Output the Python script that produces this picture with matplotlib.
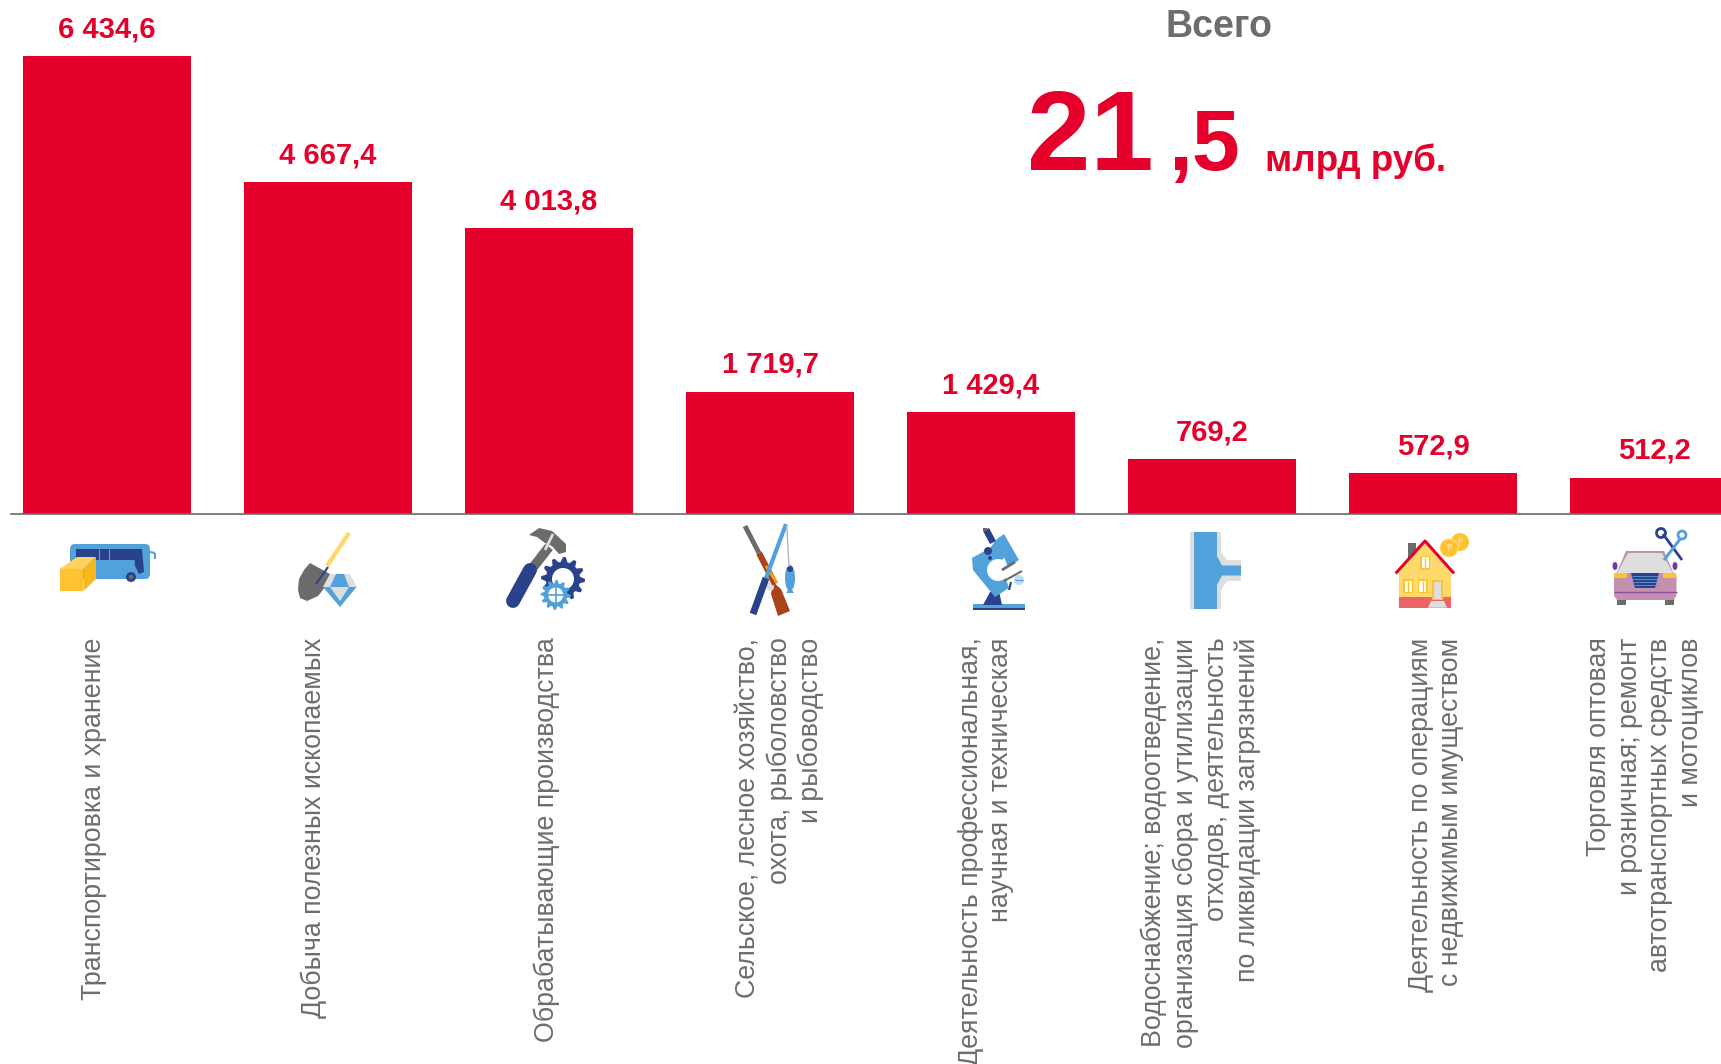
import numpy as np
import matplotlib
matplotlib.use("Agg")
import matplotlib.pyplot as plt
from matplotlib.patches import Polygon, Circle, Rectangle, Ellipse, FancyBboxPatch
from matplotlib.transforms import ScaledTranslation

plt.rcParams['font.family'] = ['Liberation Sans', 'DejaVu Sans']

categories = [
    "Транспортировка и хранение",
    "Добыча полезных ископаемых",
    "Обрабатывающие производства",
    "Сельское, лесное хозяйство,\nохота, рыболовство\nи рыбоводство",
    "Деятельность профессиональная,\nнаучная и техническая",
    "Водоснабжение; водоотведение,\nорганизация сбора и утилизации\nотходов, деятельность\nпо ликвидации загрязнений",
    "Деятельность по операциям\nс недвижимым имуществом",
    "Торговля оптовая\nи розничная; ремонт\nавтотранспортных средств\nи мотоциклов",
]
values = [6434.6, 4667.4, 4013.8, 1719.7, 1429.4, 769.2, 572.9, 512.2]

RED = "#E4002B"
GRAY = "#6D6D6D"
BLUE = "#52A1DA"
NAVY = "#2A428C"
YELLOW = "#FFC331"
LIGHT = "#DEDEDE"

W, H = 1721, 1064
fig = plt.figure(figsize=(W / 100, H / 100), dpi=100)

# bars: one category = 221 px, x=0 sits at 107 px, baseline at 514 px
ax = fig.add_axes([11 / W, (H - 514) / H, (W - 11) / W, 514 / H])
ax.set_xlim((11 - 107) / 221, (W - 107) / 221)
ax.set_ylim(0, 514 / 0.07113)
x = np.arange(len(values))
bars = ax.bar(x, values, width=0.762, color=RED)

for s in ['top', 'left', 'right']:
    ax.spines[s].set_visible(False)
ax.spines['bottom'].set_color("#6a6a6a")
ax.spines['bottom'].set_linewidth(1.2)
ax.set_yticks([])

for b, v in zip(bars, values):
    txt = f"{v:,.1f}".replace(",", " ").replace(".", ",")
    ax.annotate(txt, (b.get_x() + b.get_width() / 2, v), xytext=(0, 13.5),
                textcoords="offset points", ha="center", va="baseline",
                color=RED, fontsize=21, fontweight="bold")

# the labels were placed by hand in the original, so not quite under the bars
label_shift = [-13, -14, -2, 10, -5, -11, 3, -9]
ax.set_xticks(x)
ax.set_xticklabels(categories, rotation=90, va="top", ha="center",
                   multialignment="right", color=GRAY, fontsize=19.3,
                   linespacing=1.245)
ax.tick_params(axis="x", length=0, pad=89)
for t, d in zip(ax.get_xticklabels(), label_shift):
    t.set_transform(t.get_transform() + ScaledTranslation(d / 100, 0, fig.dpi_scale_trans))

# headline
fig.text(1219 / W, 1 - 37 / H, "Всего", ha="center", va="baseline", color=GRAY,
         fontsize=27, fontweight="bold")
fig.text(1027 / W, 1 - 170 / H, "21", ha="left", va="baseline", color=RED,
         fontsize=82, fontweight="bold")
fig.text(1168 / W, 1 - 170 / H, ",5", ha="left", va="baseline", color=RED,
         fontsize=62, fontweight="bold")
fig.text(1265 / W, 1 - 171 / H, "млрд руб.", ha="left", va="baseline", color=RED,
         fontsize=26.5, fontweight="bold")

# icons, drawn in pixel coordinates of the picture
ic = fig.add_axes([0, 0, 1, 1], zorder=5)
ic.set_xlim(0, W)
ic.set_ylim(H, 0)
ic.axis("off")
ic.patch.set_alpha(0)


def poly(pts, color):
    ic.add_patch(Polygon(pts, closed=True, fc=color, ec="none"))


def rect(x0, y0, x1, y1, color):
    ic.add_patch(Rectangle((x0, y0), x1 - x0, y1 - y0, fc=color, ec="none"))


def circ(cx, cy, r, color):
    ic.add_patch(Circle((cx, cy), r, fc=color, ec="none"))


def line(x0, y0, x1, y1, color, lw, cap="butt"):
    ic.plot([x0, x1], [y0, y1], color=color, lw=lw, solid_capstyle=cap)


def gear(cx, cy, r, color, teeth, hole_color="white"):
    a = np.linspace(0, 2 * np.pi, teeth * 4, endpoint=False)
    rr = np.tile([r, r, r * 0.78, r * 0.78], teeth)
    poly(np.c_[cx + rr * np.cos(a), cy + rr * np.sin(a)], color)
    circ(cx, cy, r * 0.5, hole_color)


def bus():
    ic.add_patch(FancyBboxPatch((72, 546), 76, 31, boxstyle="round,pad=2,rounding_size=5", fc=BLUE, ec="none"))
    rect(75.5, 549, 136, 560, NAVY)
    line(99, 549, 99, 560, BLUE, 0.8)
    line(109, 549, 109, 560, BLUE, 0.8)
    poly([(134, 549), (142, 549), (144, 572), (139, 574), (135, 566)], NAVY)
    line(150, 552, 155, 553, BLUE, 1.5)
    line(155, 553, 155, 559, BLUE, 1.5)
    circ(131, 577, 5, NAVY)
    circ(131, 577, 2.2, GRAY)
    poly([(59.6, 569), (77, 557), (96, 557), (83.4, 569)], "#FFD25C")
    poly([(83.4, 569), (96, 557), (96, 579), (83.4, 591)], "#F6B81F")
    rect(59.6, 569, 83.4, 591, YELLOW)


def shovel():
    line(349, 533, 327, 566, "#FFD96B", 3.2)
    poly([(310, 563), (330, 574), (326, 586), (318, 596), (307, 601), (300, 598),
          (298, 590), (299, 579), (304, 570)], "#6B6B6B")
    line(328, 567, 316, 584, NAVY, 1.5)
    poly([(330, 574), (349, 574), (356.5, 587), (340, 607), (323, 587)], BLUE)
    poly([(330, 587), (349, 587), (340, 601)], LIGHT)
    poly([(323, 587), (330, 574), (336, 574), (330, 587)], LIGHT)
    poly([(356.5, 587), (349, 574), (344, 574), (349, 587)], LIGHT)


def hammer():
    line(549, 547, 531, 570, "#6B6B6B", 7)
    line(530, 570, 513, 601, NAVY, 10, "round")
    poly([(529, 535), (539, 528), (552, 531), (566, 544), (566, 552), (559, 554),
          (552, 546), (545, 543), (537, 537)], "#6B6B6B")
    line(553, 534, 545, 550, LIGHT, 2)
    gear(563, 579, 22, NAVY, 12)
    gear(555.7, 595, 15, BLUE, 12, "white")
    line(545, 595, 566, 595, BLUE, 1.2)
    line(555.7, 584, 555.7, 606, BLUE, 1.2)


def fishing():
    line(745, 526, 759, 553, "#6B6B6B", 3.5)
    line(759, 553, 775, 584, "#A8431A", 4.5)
    poly([(773, 582), (781, 589), (790, 611), (778, 616), (771, 594)], "#A8431A")
    line(766, 566, 777, 583, "#F0A21C", 2)
    line(786, 524, 766, 578, BLUE, 3)
    line(766, 578, 753, 614, NAVY, 5)
    line(786.7, 525, 789, 566.7, "#B5B5B5", 1)
    rect(761, 582, 773, 586, LIGHT)
    circ(770, 587, 4, LIGHT)
    ic.add_patch(Ellipse((790, 578), 10, 26, fc=BLUE, ec="none"))
    circ(790, 569, 3, NAVY)
    poly([(788, 590), (792, 590), (794, 593), (786, 593)], BLUE)


def microscope():
    rect(973, 604, 1025, 610, BLUE)
    rect(973, 608, 1025, 610, NAVY)
    poly([(983, 605), (990, 592), (999, 591), (1002, 605)], NAVY)
    poly([(972, 558), (990, 548), (997, 539), (1016, 568), (1004, 573),
          (1009, 588), (995, 597), (973, 570)], BLUE)
    circ(998, 570, 11, "white")
    poly([(1002, 560), (1012, 577), (1020, 572), (1008, 553)], "white")
    poly([(997, 539), (1004, 534), (1019, 560), (1008, 567)], BLUE)
    poly([(983, 531), (989, 528), (996, 541), (990, 544)], NAVY)
    rect(983, 528, 987, 531, "#6B6B6B")
    circ(988, 551, 4, NAVY)
    circ(990, 558, 2, NAVY)
    line(1002, 570, 1015, 562, "#6B6B6B", 2)
    line(1004, 581, 1022, 571, "#6B6B6B", 1.5)
    line(1009, 590, 1011, 582, NAVY, 1.5)
    circ(1019, 580, 5, "#BFD9EF")
    line(1015, 580, 1023, 580, BLUE, 0.8)


def pipe():
    rect(1190, 532, 1221, 609, LIGHT)
    poly([(1221, 552), (1227, 560), (1241, 560), (1241, 581), (1227, 581), (1221, 590)], LIGHT)
    rect(1194, 532, 1217, 609, BLUE)
    poly([(1217, 556), (1222, 565.5), (1241, 565.5), (1241, 575.5), (1222, 575.5), (1217, 585)], BLUE)


def house():
    rect(1408, 543, 1415.7, 558, "#6B6B6B")
    poly([(1425, 543), (1451, 572), (1451, 597), (1399, 597), (1399, 572)], "#FFD96B")
    rect(1399, 597, 1451, 607.7, "#EE6365")
    ic.plot([1396.7, 1425, 1453], [572.3, 541, 572.3], color=RED, lw=2.2)
    for cx, cy in [(1425, 562.7), (1408, 586), (1422.7, 586)]:
        rect(cx - 5, cy - 7, cx + 5, cy + 7, YELLOW)
        rect(cx - 3.5, cy - 5.5, cx + 3.5, cy + 5.5, "white")
        line(cx, cy - 5.5, cx, cy + 5.5, YELLOW, 1)
    rect(1432, 580, 1443, 600, YELLOW)
    rect(1434, 581.5, 1441, 599, LIGHT)
    poly([(1431, 601), (1444, 601), (1447, 607.7), (1428, 607.7)], LIGHT)
    circ(1460, 542, 9, YELLOW)
    circ(1449, 548, 9.5, "#FFE08A")
    circ(1449, 548, 8.5, YELLOW)
    for cx, cy in [(1449, 548), (1460, 542)]:
        line(cx - 1, cy - 4, cx - 1, cy + 4, "#FFE08A", 1)
        ic.add_patch(Circle((cx + 0.5, cy - 2), 1.8, fc="none", ec="#FFE08A", lw=0.9))


def car():
    pink = "#C58FB0"
    rect(1617, 595, 1626, 605, "#6B6B6B")
    rect(1665, 595, 1674, 605, "#6B6B6B")
    ic.add_patch(Ellipse((1615, 566), 5, 8, fc="#6B3FA0", ec="none"))
    ic.add_patch(Ellipse((1675, 566), 5, 8, fc="#6B3FA0", ec="none"))
    poly([(1626, 551), (1664, 551), (1673, 572), (1676.5, 576), (1676.5, 596), (1673, 600),
          (1617, 600), (1614, 596), (1614, 576), (1617, 572)], pink)
    poly([(1628, 553), (1662, 553), (1673, 573), (1617, 573)], LIGHT)
    rect(1614, 573, 1627, 578, YELLOW)
    rect(1663, 573, 1676, 578, YELLOW)
    poly([(1631, 573), (1659, 573), (1655, 588), (1635, 588)], NAVY)
    for yy in [576, 579, 582, 585]:
        line(1632, yy, 1658, yy, BLUE, 0.6)
    line(1614, 592, 1676.5, 592, "#8A4FA0", 1)
    line(1682, 560, 1663, 534, NAVY, 2)
    ic.add_patch(Circle((1661, 533), 4.5, fc="none", ec=NAVY, lw=2))
    line(1664, 560, 1681, 538, BLUE, 2.2)
    ic.add_patch(Circle((1682, 535), 4, fc="none", ec=BLUE, lw=2))


for draw in [bus, shovel, hammer, fishing, microscope, pipe, house, car]:
    draw()

ic.set_xlim(0, W)
ic.set_ylim(H, 0)

plt.savefig("out.png", dpi=100)
